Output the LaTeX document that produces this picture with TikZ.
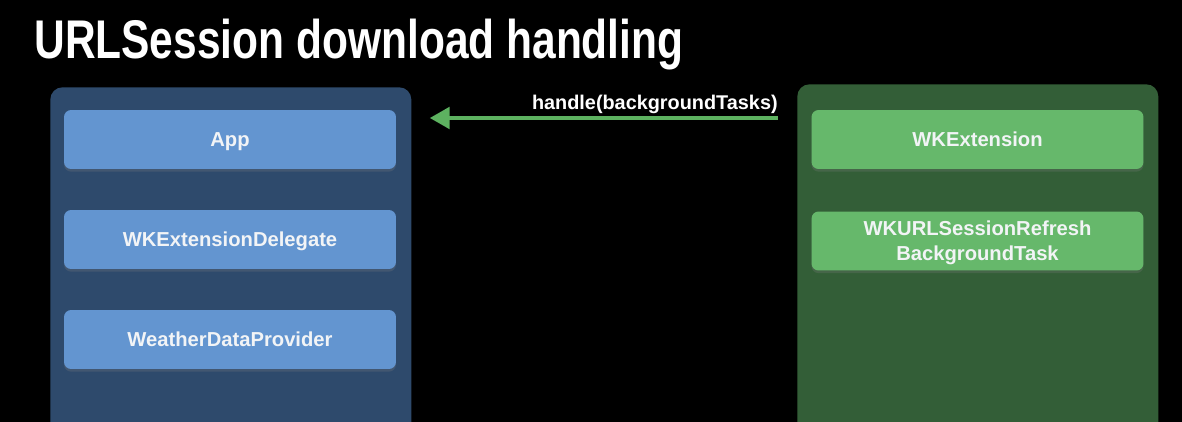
\documentclass[tikz,border=0pt]{standalone}
\usepackage{fontspec}
\setmainfont{Liberation Sans}
\newfontfamily\titlefont{Liberation Sans}[FakeStretch=0.78]
\usetikzlibrary{arrows.meta,shadows}
\definecolor{hostpanel}{RGB}{46, 74, 108}
\definecolor{hostbox}{RGB}{99, 149, 208}
\definecolor{extpanel}{RGB}{51, 94, 55}
\definecolor{extbox}{RGB}{102, 184, 107}
\definecolor{callgreen}{RGB}{93, 178, 96}
\definecolor{boxtext}{RGB}{242, 244, 246}

\tikzset{
  panel/.style={rounded corners=0.24cm, inner sep=0pt, anchor=north west,
    minimum width=7.22cm, minimum height=7.2cm},
  classbox/.style={rounded corners=0.14cm, inner sep=0pt, align=center,
    minimum width=6.64cm, minimum height=1.18cm, text=boxtext,
    text depth=0.5pt,
    font=\bfseries\fontsize{11.5}{14}\selectfont,
    drop shadow={opacity=0.25, shadow xshift=0pt, shadow yshift=-1.5pt}},
  flow/.style={callgreen, line width=2.8pt, -{Triangle[length=0.4cm, width=0.42cm]}}
}

\begin{document}
\begin{tikzpicture}[x=0.02cm, y=-0.02cm]

% ============================================================
%  canvas 1182 x 422 (pixel grid, y downwards)
% ============================================================
\fill[black] (0,0) rectangle (1182,422);
\useasboundingbox (0,0) rectangle (1182,422);
\clip (0,0) rectangle (1182,422);

\node[anchor=base west, text=white, inner sep=0pt,
  font=\titlefont\bfseries\fontsize{31}{36}\selectfont]
  (title) at (34,59) {URLSession download handling};

% ---- left column: the app side ----
\node[panel, fill=hostpanel] (host) at (50,87) {};
\node[classbox, fill=hostbox] (app)      at (230,139.5) {App};
\node[classbox, fill=hostbox] (delegate) at (230,239.5) {WKExtensionDelegate};
\node[classbox, fill=hostbox] (provider) at (230,339.5) {WeatherDataProvider};

% ---- right column: the system side ----
\node[panel, fill=extpanel] (system) at (797,84) {};
\node[classbox, fill=extbox] (wkext)   at (977.5,139.5) {WKExtension};
\node[classbox, fill=extbox] (refresh) at (977.5,241)
  {WKURLSessionRefresh\\BackgroundTask};

% ---- the call from system to app ----
\coordinate (callfrom) at (778,118);
\draw[flow, shorten >=0.36cm] (callfrom) -- (callfrom -| host.east);
\node[anchor=base east, text=white, inner sep=0pt,
  font=\bfseries\fontsize{11.3}{14}\selectfont]
  (calllabel) at (778,110) {handle(backgroundTasks)};

\end{tikzpicture}
\end{document}
